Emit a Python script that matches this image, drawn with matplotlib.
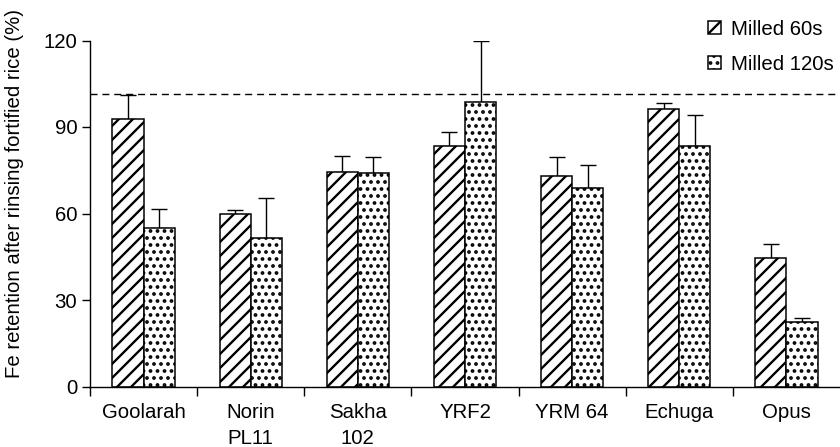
import numpy as np
import matplotlib
matplotlib.use("Agg")
import matplotlib.pyplot as plt

# Rice cultivars and Fe retention (%) after rinsing
cultivars = ["Goolarah", "Norin\nPL11", "Sakha\n102", "YRF2", "YRM 64", "Echuga", "Opus"]
milled_60s = [92.7, 59.7, 74.3, 83.5, 72.9, 96.1, 44.7]
milled_60s_err = [8.4, 1.5, 5.7, 4.9, 6.8, 2.3, 4.8]
milled_120s = [55.0, 51.5, 74.2, 98.6, 69.0, 83.5, 22.3]
milled_120s_err = [6.7, 13.8, 5.5, 21.3, 7.7, 10.8, 1.5]
reference_level = 101.5
y_ticks = [0, 30, 60, 90, 120]

DPI = 84
plt.rcParams["font.family"] = ["Liberation Sans", "DejaVu Sans"]
plt.rcParams["hatch.linewidth"] = 2.0
plt.rcParams["hatch.color"] = "black"

fig = plt.figure(figsize=(840 / DPI, 447 / DPI), dpi=DPI)
ax = fig.add_axes([90 / 840, 60.5 / 447, 750 / 840, 346 / 447])

x = np.arange(len(cultivars))
w = 0.29
fs = 17.5

ax.bar(x - w / 2, milled_60s, w, color="white", edgecolor="black", linewidth=1.3,
       hatch="//", label="Milled 60s", zorder=2)
ax.bar(x + w / 2, milled_120s, w, color="white", edgecolor="black", linewidth=1.3,
       hatch="..", label="Milled 120s", zorder=2)

err_kw = dict(fmt="none", ecolor="black", elinewidth=1.2, capsize=7, capthick=1.2, zorder=1)
ax.errorbar(x - w / 2, milled_60s, yerr=[np.zeros(len(x)), milled_60s_err], **err_kw)
ax.errorbar(x + w / 2, milled_120s, yerr=[np.zeros(len(x)), milled_120s_err], **err_kw)

ax.axhline(reference_level, color="black", linestyle=(0, (5, 3.5)), linewidth=1.2, zorder=0)

ax.set_xlim(-0.5, len(cultivars) - 0.5)
ax.set_ylim(0, 120)
ax.set_yticks(y_ticks)
ax.tick_params(axis="y", direction="out", length=7, width=1.2, labelsize=fs, pad=4)

ax.set_xticks(x)
ax.set_xticklabels(cultivars, fontsize=fs, linespacing=1.5)
ax.tick_params(axis="x", which="major", length=0, pad=14)
ax.set_xticks(np.arange(-0.5, len(cultivars) - 0.5, 1.0), minor=True)
ax.tick_params(axis="x", which="minor", direction="out", length=8, width=1.2)

for side in ("top", "right"):
    ax.spines[side].set_visible(False)
for side in ("left", "bottom"):
    ax.spines[side].set_linewidth(1.2)

fig.text(15 / 840, 1 - 193 / 447, "Fe retention after rinsing fortified rice (%)",
         rotation=90, ha="center", va="center", fontsize=fs)

ax.legend(loc="upper right", bbox_to_anchor=(834 / 840, 1 - 20 / 447),
          bbox_transform=fig.transFigure, frameon=False, fontsize=fs,
          handlelength=0.62, handleheight=0.62, handletextpad=0.5,
          labelspacing=0.78, borderpad=0, borderaxespad=0)

fig.savefig("out.png", dpi=DPI)
